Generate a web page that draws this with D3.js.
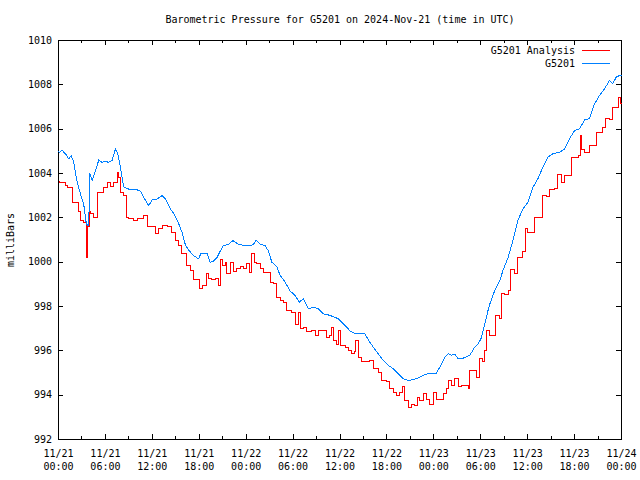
<!DOCTYPE html>
<html><head><meta charset="utf-8">
<script src="https://cdn.jsdelivr.net/npm/d3@7/dist/d3.min.js"></script>
<style>
body{margin:0;background:#fff}
text{font-family:"DejaVu Sans Mono","Liberation Mono",monospace;font-size:10px;fill:#000}
</style>
</head><body>
<svg id="chart" width="640" height="480"></svg>
<script>
// ---- data (hours since 2024-11-21 00:00 UTC, pressure in mb) ----
const analysisHours = [0,0.13,0.51,0.89,1.11,1.62,1.83,2.39,2.59,2.81,3.23,3.45,3.54,3.61,3.74,3.92,4.09,4.51,4.94,5.36,5.78,6.22,6.64,7.06,7.49,7.70,7.91,8.34,8.68,8.97,9.61,10.05,10.89,11.32,11.96,12.38,12.80,13.24,13.88,14.51,14.94,15.36,15.79,16.43,16.85,17.27,17.71,18.04,18.47,18.89,19.19,19.62,20.04,20.46,20.68,21.03,21.32,21.54,21.96,22.38,22.81,23.23,23.66,24.09,24.42,24.73,25.02,25.37,25.79,26.21,26.72,27.06,27.48,27.83,28.34,28.76,29.11,29.40,29.83,30.26,30.68,30.89,31.31,31.75,32.39,32.81,33.23,33.87,34.30,34.63,34.94,35.23,35.58,35.78,36.0,36.64,37.06,37.49,37.91,38.04,38.34,38.77,39.41,39.83,40.25,40.89,41.32,41.96,42.29,42.80,43.24,43.66,44.0,44.30,44.72,45.15,45.57,45.87,46.21,46.63,47.07,47.49,47.91,48.34,48.77,49.19,49.62,49.83,50.26,50.68,51.10,51.54,51.96,52.38,52.60,53.02,53.45,53.78,54.21,54.42,54.73,55.06,55.57,55.91,56.43,56.64,57.06,57.61,57.79,58.34,58.76,59.40,59.74,60.04,60.47,60.89,61.53,61.88,62.39,62.81,63.45,63.87,64.30,64.72,65.45,65.66,66.0,66.55,66.72,66.85,67.28,67.91,68.55,68.77,69.19,69.62,69.93,70.47,70.89,71.32,71.66,71.83,72.0];
const analysisValues = [1003.65,1003.6,1003.6,1003.46,1003.35,1003.35,1002.7,1002.7,1002.3,1001.9,1001.8,1001.8,1001.05,1000.2,1001.6,1002.3,1002.2,1002.0,1003.15,1003.15,1003.35,1003.6,1003.4,1003.6,1004.06,1003.8,1003.15,1003.0,1002.0,1001.95,1001.9,1001.95,1002.1,1001.6,1001.6,1001.3,1001.5,1001.65,1001.6,1001.35,1001.0,1000.75,1000.4,999.85,999.63,999.2,999.2,998.8,998.95,999.5,999.25,999.2,999.25,998.95,1000.1,999.85,1000.0,999.5,1000.0,999.6,999.7,999.8,999.7,999.93,999.55,1000.38,1000.0,999.93,999.7,999.55,999.55,999.1,999.05,998.4,998.27,998.2,997.8,997.8,997.75,997.2,997.75,997.0,997.07,996.85,996.9,996.7,996.9,996.9,996.6,996.7,997.07,996.46,996.3,996.9,996.24,996.17,996.0,995.87,995.95,996.46,995.7,995.5,995.5,995.55,995.2,995.04,994.66,994.6,994.3,994.14,994.0,994.14,994.4,993.76,993.46,993.6,993.55,993.9,993.76,994.07,993.8,993.6,994.14,993.8,993.8,994.07,994.3,994.66,994.45,994.74,994.4,994.42,994.45,994.3,995.1,995.1,994.8,995.64,995.5,996.0,996.9,996.7,996.7,997.6,997.45,998.57,998.55,998.72,999.66,999.48,1000.2,1000.5,1001.5,1001.35,1001.35,1002.03,1002.03,1003.0,1002.95,1003.3,1003.32,1003.95,1003.6,1003.9,1003.9,1004.74,1004.7,1004.8,1005.7,1005.1,1004.96,1005.26,1005.28,1005.86,1005.86,1006.09,1006.47,1006.45,1006.99,1007.0,1007.44,1007.14,1007.2];
const stationHours = [0,0.13,0.47,0.89,1.31,1.62,1.95,2.39,2.81,3.23,3.57,3.87,4.0,4.30,4.72,5.14,5.58,6.0,6.42,6.86,7.28,7.57,7.91,8.34,8.97,9.83,10.47,11.11,11.53,11.96,12.60,13.24,13.66,14.30,14.72,15.36,15.79,16.21,16.63,17.27,17.91,18.22,18.98,19.40,19.83,20.26,20.68,21.10,21.74,22.30,23.02,23.87,24.51,24.93,25.28,25.79,26.43,26.85,27.28,27.92,28.34,28.98,29.62,30.26,30.80,31.31,31.95,32.59,33.23,33.87,34.72,35.78,36.64,37.28,37.91,38.55,39.19,39.61,40.25,40.89,41.53,42.17,42.80,43.44,44.08,44.72,45.36,46.0,46.63,47.49,48.34,48.77,49.40,49.83,50.26,50.68,51.10,51.54,51.96,52.60,53.24,53.66,54.09,54.51,54.93,55.15,55.79,56.43,56.85,57.49,58.12,58.76,59.40,60.04,60.68,61.31,61.95,62.59,63.23,64.09,64.72,65.36,66.0,66.64,67.28,67.91,68.55,69.19,69.83,70.47,70.89,71.32,71.74,72.0];
const stationValues = [1005.0,1004.96,1005.04,1004.89,1004.66,1004.81,1004.51,1003.6,1003.08,1002.6,1001.7,1001.65,1004.0,1003.7,1004.1,1004.6,1004.5,1004.55,1004.5,1004.6,1005.1,1004.9,1004.3,1003.4,1003.3,1003.3,1003.2,1002.8,1002.55,1002.8,1002.85,1003.0,1002.85,1002.4,1002.2,1001.75,1001.35,1000.8,1000.55,1000.3,1000.15,1000.4,1000.4,1000.0,1000.05,1000.2,1000.5,1000.75,1000.8,1000.97,1000.8,1000.75,1000.75,1000.8,1001.0,1000.8,1000.75,1000.5,1000.0,999.8,999.4,999.1,998.7,998.5,998.2,998.35,997.9,997.97,997.9,997.67,997.6,997.45,997.15,996.9,996.77,996.77,996.77,996.5,996.17,995.87,995.57,995.34,995.2,994.97,994.74,994.66,994.7,994.78,994.9,995.0,995.0,995.27,995.7,995.87,995.8,995.85,995.64,995.64,995.7,995.8,996.17,996.3,996.6,997.2,997.82,998.1,998.72,999.17,999.63,1000.2,1000.97,1001.9,1002.4,1002.7,1003.38,1003.76,1004.29,1004.74,1004.89,1004.96,1005.1,1005.57,1005.94,1006.02,1006.42,1006.47,1007.14,1007.52,1007.82,1008.2,1008.05,1008.35,1008.42,1008.4];
const seriesNames = ["G5201 Analysis","G5201"];
const seriesColors = ["#ff0000","#0080ff"];
const yTickValues = [992,994,996,998,1000,1002,1004,1006,1008,1010];
const xTickHours = [0,6,12,18,24,30,36,42,48,54,60,66,72];
const xMinorHours = [3,9,15,21,27,33,39,45,51,57,63,69];
const xTickDates = ["11/21","11/21","11/21","11/21","11/22","11/22","11/22","11/22","11/23","11/23","11/23","11/23","11/24"];
const xTickTimes = ["00:00","06:00","12:00","18:00","00:00","06:00","12:00","18:00","00:00","06:00","12:00","18:00","00:00"];
const titleText = "Barometric Pressure for G5201 on 2024-Nov-21 (time in UTC)";
const yLabelText = "milliBars";

// ---- layout ----
const L = 58, R = 621, T = 40, B = 439;
const svg = d3.select("#chart");
const x = d3.scaleLinear().domain([0,72]).range([L,R]);
const y = d3.scaleLinear().domain([992,1010]).range([B,T]);

// title
svg.append("text").attr("x",340).attr("y",23).attr("text-anchor","middle").text(titleText);
// y label
svg.append("text").attr("transform","translate(14,240) rotate(-90)").attr("text-anchor","middle").text(yLabelText);

// axes (ticks inward)
const gB = svg.append("g").attr("transform",`translate(0,${B})`)
  .call(d3.axisBottom(x).tickValues(xTickHours).tickSize(-5).tickFormat(""));
const gBm = svg.append("g").attr("transform",`translate(0,${B})`)
  .call(d3.axisBottom(x).tickValues(xMinorHours).tickSize(-3).tickFormat(""));
const gT = svg.append("g").attr("transform",`translate(0,${T})`)
  .call(d3.axisTop(x).tickValues(xTickHours).tickSize(-5).tickFormat(""));
const gTm = svg.append("g").attr("transform",`translate(0,${T})`)
  .call(d3.axisTop(x).tickValues(xMinorHours).tickSize(-3).tickFormat(""));
const gL = svg.append("g").attr("transform",`translate(${L},0)`)
  .call(d3.axisLeft(y).tickValues(yTickValues).tickSize(-5).tickPadding(6).tickFormat(d3.format("d")));
const gR = svg.append("g").attr("transform",`translate(${R},0)`)
  .call(d3.axisRight(y).tickValues(yTickValues).tickSize(-5).tickFormat(""));
[gB,gBm,gT,gTm,gL,gR].forEach(g=>{
  g.select(".domain").remove();
  g.selectAll("line").attr("stroke","#000").attr("shape-rendering","crispEdges");
  g.selectAll("text").attr("font-family",null).attr("font-size",null);
});

// x labels (two lines)
const xl = svg.append("g");
xl.selectAll("text.d").data(xTickHours).join("text").attr("class","d")
  .attr("x",d=>x(d)+0.5).attr("y",457).attr("text-anchor","middle").text((d,i)=>xTickDates[i]);
xl.selectAll("text.t").data(xTickHours).join("text").attr("class","t")
  .attr("x",d=>x(d)+0.5).attr("y",470).attr("text-anchor","middle").text((d,i)=>xTickTimes[i]);

// frame
svg.append("rect").attr("x",L+0.5).attr("y",T+0.5).attr("width",R-L).attr("height",B-T)
  .attr("fill","none").attr("stroke","#000").attr("shape-rendering","crispEdges");

// data lines
const plot = svg.append("g").attr("transform","translate(0.5,0.5)");
const analysis = analysisHours.map((h,i)=>[h,analysisValues[i]]);
const station = stationHours.map((h,i)=>[h,stationValues[i]]);
plot.append("path").datum(analysis)
  .attr("d",d3.line().x(d=>x(d[0])).y(d=>y(d[1])).curve(d3.curveStepAfter))
  .attr("fill","none").attr("stroke",seriesColors[0]).attr("stroke-width",1).attr("shape-rendering","crispEdges");
plot.append("path").datum(station)
  .attr("d",d3.line().x(d=>x(d[0])).y(d=>y(d[1])))
  .attr("fill","none").attr("stroke",seriesColors[1]).attr("stroke-width",1).attr("shape-rendering","crispEdges");

// legend
const lg = svg.append("g");
seriesNames.forEach((n,i)=>{
  const yy = 50 + i*13;
  lg.append("text").attr("x",575).attr("y",yy+3.5).attr("text-anchor","end").text(n);
  lg.append("line").attr("x1",582).attr("x2",610).attr("y1",yy+0.5).attr("y2",yy+0.5)
    .attr("stroke",seriesColors[i]).attr("shape-rendering","crispEdges");
});
</script>
</body></html>
